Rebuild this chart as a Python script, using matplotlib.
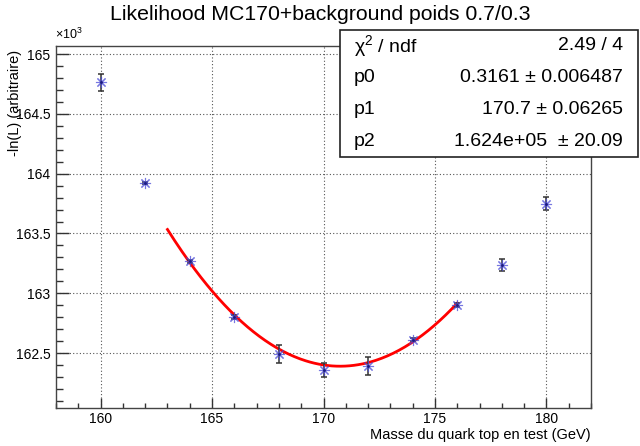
import numpy as np
import matplotlib
matplotlib.use("Agg")
import matplotlib.pyplot as plt
from matplotlib.ticker import MultipleLocator, FormatStrFormatter

plt.rcParams["font.family"] = ["Liberation Sans", "DejaVu Sans"]
plt.rcParams["mathtext.fontset"] = "custom"
plt.rcParams["mathtext.rm"] = "Liberation Sans"
plt.rcParams["mathtext.it"] = "Liberation Sans"

# data, in units of 10^3
mass = [160, 162, 164, 166, 168, 170, 172, 174, 176, 178, 180]
nll = [164.765, 163.923, 163.266, 162.80, 162.49, 162.36, 162.39, 162.61, 162.90, 163.24, 163.75]
nll_err = [0.07, 0.012, 0.012, 0.015, 0.077, 0.06, 0.078, 0.012, 0.015, 0.05, 0.053]

fit_range = (163, 176)
stats_names = ["χ$^{2}$ / ndf", "p0", "p1", "p2"]
stats_values = ["2.49 / 4", "0.3161 ± 0.006487", "170.7 ± 0.06265", "1.624e+05  ± 20.09"]

title = "Likelihood MC170+background poids 0.7/0.3"
xlabel = "Masse du quark top en test (GeV)"
ylabel = "-ln(L) (arbitraire)"

fig = plt.figure(figsize=(6.4, 4.46), dpi=100)
ax = fig.add_axes([0.0875, 0.0852, 0.836, 0.812])

# quadratic fit on the points inside the fit range
m = np.array(mass, dtype=float)
v = np.array(nll)
e = np.array(nll_err)
sel = (m >= fit_range[0]) & (m <= fit_range[1])
coef = np.polyfit(m[sel], v[sel], 2, w=1.0 / e[sel])
xf = np.linspace(fit_range[0], fit_range[1], 200)
ax.plot(xf, np.polyval(coef, xf), color="red", lw=2, zorder=3)

ax.errorbar(mass, nll, yerr=nll_err, fmt="none", ecolor="#333333",
            elinewidth=1.1, capsize=2.5, capthick=1.1, zorder=4)
ax.plot(mass, nll, ls="none", marker=(8, 2, 0), ms=8, mec="#4a4ad8",
        mew=0.8, alpha=0.75, zorder=5)
ax.plot(mass, nll, ls="none", marker="o", ms=2, mfc="#1a1a80", mec="none",
        zorder=6)

ax.set_xlim(158, 182)
ax.set_ylim(162.04, 165.07)
ax.xaxis.set_major_locator(MultipleLocator(5))
ax.xaxis.set_minor_locator(MultipleLocator(1))
ax.yaxis.set_major_locator(MultipleLocator(0.5))
ax.yaxis.set_minor_locator(MultipleLocator(0.1))
ax.yaxis.set_major_formatter(FormatStrFormatter("%g"))

ax.tick_params(axis="both", which="both", direction="in", labelsize=10,
               color="#333333", width=1)
ax.tick_params(axis="x", which="major", length=7, pad=3)
ax.tick_params(axis="x", which="minor", length=3.5)
ax.tick_params(axis="y", which="major", length=9, pad=4)
ax.tick_params(axis="y", which="minor", length=5)

ax.grid(True, which="major", color="#555555", ls=(0, (1, 2)), lw=0.8)
for s in ax.spines.values():
    s.set_color("#444444")
    s.set_linewidth(1)

ax.set_xlabel(xlabel, fontsize=10.5, loc="right", labelpad=1)
fig.text(0.024, 0.888, ylabel, fontsize=10.5, rotation=90, ha="center", va="top")
fig.text(0.086, 0.905, r"$\times10^{3}$", fontsize=9, ha="left", va="bottom")
fig.text(0.5, 0.968, title, fontsize=15.3, ha="center", va="center")

# stats box
bx0, bx1, by0, by1 = 0.531, 0.997, 0.648, 0.933
box = plt.Rectangle((bx0, by0), bx1 - bx0, by1 - by0, transform=fig.transFigure,
                    facecolor="white", edgecolor="#222222", lw=1.2, zorder=10)
fig.patches.append(box)
row_h = (by1 - by0) / len(stats_names)
for i, (name, val) in enumerate(zip(stats_names, stats_values)):
    yc = by1 - (i + 0.5) * row_h
    fig.text(bx0 + 0.022, yc, name, fontsize=14, ha="left", va="center", zorder=11)
    fig.text(bx1 - 0.024, yc, val, fontsize=14, ha="right", va="center", zorder=11)

fig.savefig("out.png", dpi=100)
